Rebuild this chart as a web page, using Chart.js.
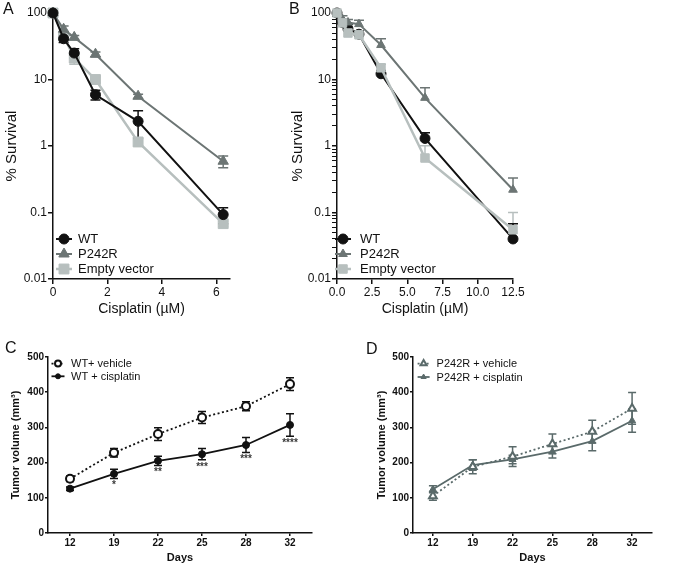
<!DOCTYPE html>
<html lang="en">
<head>
    <meta charset="UTF-8">
    <title>Cisplatin survival and tumor volume</title>
    <script src="https://cdn.jsdelivr.net/npm/chart.js@4"></script>
    <style>
        body {
            margin: 0;
            background: #fff;
            font-family: 'Liberation Sans', Arial, sans-serif;
        }

        #figure {
            position: relative;
            width: 680px;
            height: 566px;
        }

        .panel {
            position: absolute;
        }

        .letter {
            position: absolute;
            font-size: 16px;
            color: #111;
        }
    </style>
</head>
<body>
    <div id="figure">
        <canvas class="panel" id="chartA" width="240" height="320" style="left:0;top:0"></canvas>
        <canvas class="panel" id="chartB" width="250" height="320" style="left:280px;top:0"></canvas>
        <canvas class="panel" id="chartC" width="340" height="236" style="left:0;top:330px"></canvas>
        <canvas class="panel" id="chartD" width="340" height="236" style="left:340px;top:330px"></canvas>

        <div class="letter" style="left:3px;top:0">A</div>
        <div class="letter" style="left:289px;top:0">B</div>
        <div class="letter" style="left:5px;top:339px">C</div>
        <div class="letter" style="left:366px;top:340px">D</div>
    </div>

    <script>
        // ---- Panel A: survival vs cisplatin dose (uM) ----
        const doseA = [0, 0.39, 0.78, 1.56, 3.125, 6.25];
        const wtA = [100, 41, 25, 5.9, 2.35, 0.093];
        const wtAErr = [0, 5, 4, 1, 1.05, 0.025];
        const p242rA = [100, 57, 43, 24, 5.6, 0.59];
        const p242rAErr = [0, 7, 3, 2, 0.4, 0.12];
        const emptyA = [100, 45, 21, 10, 1.15, 0.068];
        const emptyAErr = [0, 4, 4, 1, 0.15, 0.006];

        // ---- Panel B (only upper bars are drawn) ----
        const doseB = [0, 0.39, 0.78, 1.56, 3.125, 6.25, 12.5];
        const wtB = [100, 72, 58, 48, 12.2, 1.3, 0.04];
        const wtBErr = [0, 8, 10, 6, 1.5, 0.28, 0.028];
        const p242rB = [100, 81, 72, 68, 33, 5.3, 0.22];
        const p242rBErr = [0, 10, 8, 10, 8, 2.2, 0.11];
        const emptyB = [100, 71, 50, 47, 15, 0.66, 0.055];
        const emptyBErr = [0, 8, 5, 4, 2, 0.35, 0.045];

        const survivalTicks = [0.01, 0.1, 1, 10, 100];
        const minorMultiples = [2, 3, 4, 5, 6, 7, 8, 9];
        const doseTicksA = [0, 2, 4, 6];
        const doseTicksB = [0, 2.5, 5, 7.5, 10, 12.5];

        // ---- Panels C, D: tumor volume (mm3) by day ----
        const days = ['12', '19', '22', '25', '28', '32'];
        const wtVehicle = [154, 228, 281, 328, 360, 423];
        const wtVehicleErr = [8, 12, 18, 17, 13, 18];
        const wtCisplatin = [126, 168, 205, 224, 250, 307];
        const wtCisplatinErr = [5, 13, 13, 16, 21, 32];
        const wtStars = ['', '*', '**', '***', '***', '****'];
        const p242rVehicle = [105, 188, 217, 253, 288, 354];
        const p242rVehicleErr = [12, 20, 28, 28, 32, 45];
        const p242rCisplatin = [124, 193, 209, 231, 261, 319];
        const p242rCisplatinErr = [10, 15, 12, 18, 27, 33];

        const INK = '#111';
        const FONT = "'Liberation Sans', Arial, sans-serif";
        const WT_COLOR = '#111';
        const MUT_COLOR = '#6c7574';
        const EMPTY_COLOR = '#b7bfbe';
        const D_COLOR = '#5a6a6a';

        Chart.defaults.font.family = FONT;
        Chart.defaults.color = INK;

        // vertical SEM bars, drawn under the markers
        const errorBarPlugin = {
            id: 'errorBars',
            beforeDatasetsDraw(chart) {
                const ctx = chart.ctx;
                const yScale = chart.scales.y;
                for (let i = chart.data.datasets.length - 1; i >= 0; i--) {
                    const ds = chart.data.datasets[i];
                    if (!ds.errors) continue;
                    const meta = chart.getDatasetMeta(i);
                    ctx.save();
                    ctx.strokeStyle = ds.borderColor;
                    ctx.lineWidth = ds.errorWidth || 1.5;
                    meta.data.forEach((pt, j) => {
                        const e = ds.errors[j];
                        if (!e) return;
                        const raw = ds.data[j];
                        const v = typeof raw === 'object' ? raw.y : raw;
                        const lo = yScale.type === 'logarithmic' ? Math.max(v - e, v * 0.05) : v - e;
                        const top = yScale.getPixelForValue(v + e);
                        const bot = ds.errorUpOnly ? pt.y : yScale.getPixelForValue(lo);
                        const cap = ds.errorCap || 4;
                        ctx.beginPath();
                        ctx.moveTo(pt.x, top);
                        ctx.lineTo(pt.x, bot);
                        ctx.moveTo(pt.x - cap, top);
                        ctx.lineTo(pt.x + cap, top);
                        if (!ds.errorUpOnly) {
                            ctx.moveTo(pt.x - cap, bot);
                            ctx.lineTo(pt.x + cap, bot);
                        }
                        ctx.stroke();
                    });
                    ctx.restore();
                }
            }
        };

        // Prism-style legend inside the plot: line + marker + label
        const figLegendPlugin = {
            id: 'figLegend',
            afterDraw(chart, args, opts) {
                if (!opts.rows) return;
                const ctx = chart.ctx;
                const area = chart.chartArea;
                ctx.save();
                ctx.font = opts.font;
                ctx.textBaseline = 'middle';
                chart.data.datasets.forEach((ds, i) => {
                    const cx = area.left + opts.x;
                    const cy = area.top + opts.y + i * opts.rows;
                    ctx.strokeStyle = ds.borderColor;
                    ctx.lineWidth = ds.borderWidth;
                    ctx.setLineDash(ds.borderDash || []);
                    ctx.beginPath();
                    ctx.moveTo(cx - opts.half, cy);
                    ctx.lineTo(cx + opts.half, cy);
                    ctx.stroke();
                    ctx.setLineDash([]);
                    ctx.fillStyle = ds.pointBackgroundColor;
                    ctx.strokeStyle = ds.pointBorderColor;
                    ctx.lineWidth = ds.pointBorderWidth;
                    Chart.helpers.drawPoint(ctx, {
                        pointStyle: ds.pointStyle,
                        radius: ds.legendRadius || ds.pointRadius,
                        rotation: 0,
                        borderWidth: ds.pointBorderWidth
                    }, cx, cy);
                    ctx.fillStyle = INK;
                    ctx.fillText(ds.label, cx + opts.textGap, cy + 0.5);
                });
                ctx.restore();
            }
        };

        // significance stars under a dataset's error bars
        const starsPlugin = {
            id: 'stars',
            afterDatasetsDraw(chart, args, opts) {
                if (!opts.labels) return;
                const ctx = chart.ctx;
                const ds = chart.data.datasets[opts.datasetIndex];
                const meta = chart.getDatasetMeta(opts.datasetIndex);
                const yScale = chart.scales.y;
                ctx.save();
                ctx.font = 'bold 10px ' + FONT;
                ctx.fillStyle = '#3a3a3a';
                ctx.textAlign = 'center';
                ctx.textBaseline = 'top';
                meta.data.forEach((pt, j) => {
                    const t = opts.labels[j];
                    if (!t) return;
                    const y = yScale.getPixelForValue(ds.data[j] - ds.errors[j]);
                    ctx.fillText(t, pt.x, y + 2);
                });
                ctx.restore();
            }
        };

        Chart.register(errorBarPlugin, figLegendPlugin, starsPlugin);

        function xy(xs, ys) {
            return xs.map((x, i) => ({ x: x, y: ys[i] }));
        }

        function survivalSet(label, xs, ys, errs, color, style, radius, width, upOnly, order) {
            return {
                label: label,
                data: xy(xs, ys),
                errors: errs,
                errorUpOnly: upOnly,
                errorCap: 5,
                errorWidth: 1.5,
                borderColor: color,
                borderWidth: width,
                pointStyle: style,
                pointRadius: radius,
                pointBackgroundColor: color,
                pointBorderColor: color,
                pointBorderWidth: 1,
                order: order,
                clip: false
            };
        }

        const axisLine = { display: true, color: INK, width: 1.5 };
        const tickMarks = { display: true, drawOnChartArea: false, drawTicks: true, tickLength: 5, color: INK, lineWidth: 1.5 };

        function logTicks(withMinor) {
            const out = [];
            survivalTicks.forEach(v => {
                out.push({ value: v, major: true });
                if (withMinor && v < 100) {
                    minorMultiples.forEach(m => out.push({ value: v * m }));
                }
            });
            return out;
        }

        function survivalChart(id, sets, xMax, xTicks, xFmt, yWidth, padLeft, padRight, withMinor, legend) {
            return new Chart(document.getElementById(id), {
                type: 'line',
                data: { datasets: sets },
                options: {
                    responsive: false,
                    animation: false,
                    events: [],
                    layout: { padding: { top: 13, right: padRight, left: padLeft, bottom: 0 } },
                    plugins: {
                        legend: { display: false },
                        tooltip: { enabled: false },
                        figLegend: legend
                    },
                    scales: {
                        x: {
                            type: 'linear',
                            min: 0,
                            max: xMax,
                            afterBuildTicks: s => { s.ticks = xTicks.map(v => ({ value: v })); },
                            afterFit: s => { s.height = 41; },
                            ticks: { font: { size: 12 }, padding: 1, callback: xFmt },
                            grid: tickMarks,
                            border: axisLine,
                            title: { display: true, text: 'Cisplatin (\u00b5M)', font: { size: 14 }, padding: { top: 2, bottom: 2 } }
                        },
                        y: {
                            type: 'logarithmic',
                            min: 0.01,
                            max: 100,
                            afterBuildTicks: s => { s.ticks = logTicks(withMinor); },
                            afterFit: s => { s.width = yWidth; },
                            ticks: {
                                font: { size: 12 },
                                padding: 1,
                                autoSkip: false,
                                callback: v => survivalTicks.includes(v) ? String(v) : ''
                            },
                            grid: {
                                display: true,
                                drawOnChartArea: false,
                                drawTicks: true,
                                tickLength: 5,
                                color: INK,
                                lineWidth: c => (c.tick && survivalTicks.includes(c.tick.value)) ? 1.5 : 1
                            },
                            border: axisLine,
                            title: { display: true, text: '% Survival', font: { size: 15 }, padding: { top: 3, bottom: 2 } }
                        }
                    }
                }
            });
        }

        survivalChart('chartA', [
            survivalSet('WT', doseA, wtA, wtAErr, WT_COLOR, 'circle', 5, 2, false, 0),
            survivalSet('P242R', doseA, p242rA, p242rAErr, MUT_COLOR, 'triangle', 6, 2, false, 1),
            survivalSet('Empty vector', doseA, emptyA, emptyAErr, EMPTY_COLOR, 'rect', 7, 2.5, false, 2)
        ], 6.5, doseTicksA, v => String(v), 53, 0, 10, false,
            { x: 11, y: 226, rows: 15, half: 8, textGap: 14, font: '13px ' + FONT });

        survivalChart('chartB', [
            survivalSet('WT', doseB, wtB, wtBErr, WT_COLOR, 'circle', 5, 2, true, 2),
            survivalSet('P242R', doseB, p242rB, p242rBErr, MUT_COLOR, 'triangle', 5, 2, true, 1),
            survivalSet('Empty vector', doseB, emptyB, emptyBErr, EMPTY_COLOR, 'rect', 6, 2.5, true, 0)
        ], 12.5, doseTicksB, v => v.toFixed(1), 51, 6, 17, true,
            { x: 6, y: 226, rows: 15, half: 8, textGap: 17, font: '13px ' + FONT });

        function tumorSet(label, values, errs, color, style, radius, dashed, open) {
            return {
                label: label,
                data: values,
                errors: errs,
                errorCap: 4,
                errorWidth: 1.5,
                borderColor: color,
                borderWidth: 1.8,
                borderDash: dashed ? [2, 2.5] : [],
                pointStyle: style,
                pointRadius: radius,
                legendRadius: radius - 1,
                pointBackgroundColor: open ? '#fff' : color,
                pointBorderColor: color,
                pointBorderWidth: open ? 2 : 1,
                clip: false
            };
        }

        function tumorChart(id, sets, yWidth, titlePad, legend, stars) {
            return new Chart(document.getElementById(id), {
                type: 'line',
                data: { labels: days, datasets: sets },
                options: {
                    responsive: false,
                    animation: false,
                    events: [],
                    layout: { padding: { top: 27, right: 340 - 312, left: 0, bottom: 0 } },
                    plugins: {
                        legend: { display: false },
                        tooltip: { enabled: false },
                        figLegend: legend,
                        stars: stars
                    },
                    scales: {
                        x: {
                            type: 'category',
                            offset: true,
                            afterFit: s => { s.height = 33; },
                            ticks: { font: { size: 10, weight: 'bold' }, padding: 1 },
                            grid: { display: true, offset: false, drawOnChartArea: false, drawTicks: true, tickLength: 3, color: INK, lineWidth: 1.5 },
                            border: axisLine,
                            title: { display: true, text: 'Days', font: { size: 11, weight: 'bold' }, padding: { top: 0, bottom: 1 } }
                        },
                        y: {
                            min: 0,
                            max: 500,
                            afterFit: s => { s.width = yWidth; },
                            ticks: { stepSize: 100, font: { size: 10, weight: 'bold' }, padding: 1 },
                            grid: { display: true, drawOnChartArea: false, drawTicks: true, tickLength: 3, color: INK, lineWidth: 1.5 },
                            border: axisLine,
                            title: { display: true, text: 'Tumor volume (mm\u00b3)', font: { size: 11, weight: 'bold' }, padding: { top: titlePad, bottom: 0 } }
                        }
                    }
                }
            });
        }

        tumorChart('chartC', [
            tumorSet('WT+ vehicle', wtVehicle, wtVehicleErr, WT_COLOR, 'circle', 4, true, true),
            tumorSet('WT + cisplatin', wtCisplatin, wtCisplatinErr, WT_COLOR, 'circle', 3.5, false, false)
        ], 48, 9,
            { x: 10, y: 6.6, rows: 12.7, half: 6.5, textGap: 13, font: '11px ' + FONT },
            { labels: wtStars, datasetIndex: 1 });

        tumorChart('chartD', [
            tumorSet('P242R + vehicle', p242rVehicle, p242rVehicleErr, D_COLOR, 'triangle', 4.5, true, true),
            tumorSet('P242R + cisplatin', p242rCisplatin, p242rCisplatinErr, D_COLOR, 'triangle', 4, false, false)
        ], 73, 35,
            { x: 10.6, y: 6.6, rows: 13.4, half: 6, textGap: 13, font: '11px ' + FONT },
            {});
    </script>
</body>
</html>
